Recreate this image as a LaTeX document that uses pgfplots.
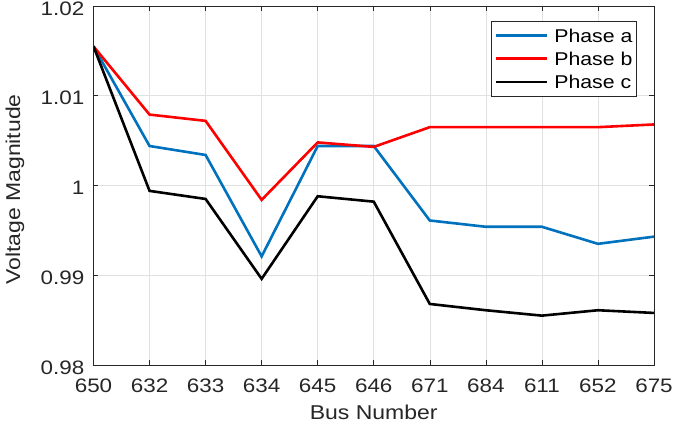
\documentclass[border=0pt]{standalone}
\usepackage{fontspec}
\setmainfont{Liberation Sans}[FakeStretch=1.15]
\usepackage{pgfplots}
\pgfplotsset{compat=1.18}
\definecolor{mblue}{RGB}{0,114,189}
\definecolor{txt}{RGB}{38,38,38}
\definecolor{gridc}{RGB}{225,225,225}
\begin{document}
\begin{tikzpicture}
\begin{axis}[
  name=ax,
  scale only axis,
  width=560.5pt, height=359pt,
  xmin=0, xmax=10, ymin=0.98, ymax=1.02,
  xtick={0,1,2,3,4,5,6,7,8,9,10},
  xticklabels={650,632,633,634,645,646,671,684,611,652,675},
  ytick={0.98,0.99,1,1.01,1.02},
  yticklabels={0.98,0.99,1,1.01,1.02},
  tick align=inside, tick pos=both,
  major tick length=5pt,
  major tick style={txt, line width=0.6pt},
  axis line style={txt, line width=0.8pt},
  grid=major,
  major grid style={gridc, line width=0.6pt},
  x tick label style={font=\fontsize{19.5}{23}\selectfont, text=txt, anchor=north, inner sep=0pt, yshift=-14pt},
  y tick label style={font=\fontsize{19.5}{23}\selectfont, text=txt, anchor=east, inner sep=0pt, xshift=-9pt, yshift=-2.5pt},
  xlabel={Bus Number},
  ylabel={Voltage Magnitude},
  xlabel style={font=\fontsize{20}{24}\selectfont, text=txt, at={(axis description cs:0.5,0)}, anchor=base, inner sep=0pt, yshift=-55pt},
  ylabel style={font=\fontsize{20}{24}\selectfont, text=txt, at={(axis description cs:0,0.5)}, anchor=south, inner sep=0pt, yshift=69pt, xshift=-4pt},
  legend style={at={(axis description cs:1,1)}, anchor=north east, xshift=-17.3pt, yshift=-14.7pt,
     draw=txt, line width=0.6pt, inner xsep=3pt, inner ysep=4.3pt, row sep=3.3pt, column sep=5pt,
     font=\fontsize{18.5}{22}\selectfont,
     nodes={inner sep=1pt, text height=16pt, text depth=2pt, text=black}},
  legend cell align=left,
  legend image code/.code={\draw[#1] (0pt,0pt) -- (51pt,0pt);},
  every axis plot/.append style={line width=2.6pt, line join=miter},
]
\addplot[mblue] coordinates {(0,1.0155) (1,1.0044) (2,1.0034) (3,0.9921) (4,1.0044) (5,1.0044) (6,0.9961) (7,0.9954) (8,0.9954) (9,0.9935) (10,0.9943)};
\addlegendentry{Phase a}
\addplot[red] coordinates {(0,1.0155) (1,1.0079) (2,1.0072) (3,0.9984) (4,1.0048) (5,1.0043) (6,1.0065) (7,1.0065) (8,1.0065) (9,1.0065) (10,1.0068)};
\addlegendentry{Phase b}
\addplot[black] coordinates {(0,1.0155) (1,0.9994) (2,0.9985) (3,0.9896) (4,0.9988) (5,0.9982) (6,0.9868) (7,0.9861) (8,0.9855) (9,0.9861) (10,0.9858)};
\addlegendentry{Phase c}
\end{axis}
\pgfresetboundingbox
\path[use as bounding box] ([xshift=-93.5pt,yshift=-67pt]ax.south west) rectangle ([xshift=19pt,yshift=6pt]ax.north east);
\end{tikzpicture}
\end{document}
